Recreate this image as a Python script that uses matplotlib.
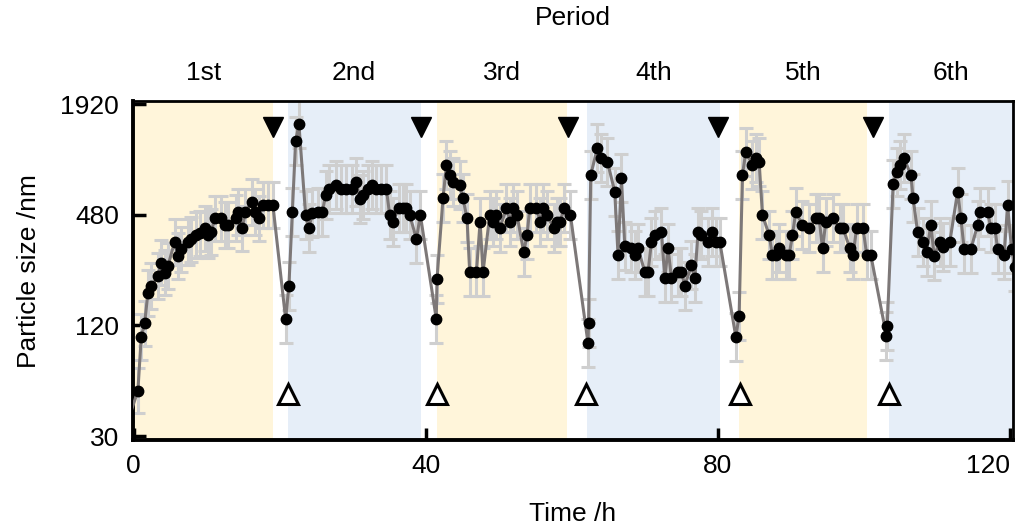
import numpy as np
import matplotlib
matplotlib.use("Agg")
import matplotlib.pyplot as plt

plt.rcParams['font.family'] = ['Liberation Sans', 'DejaVu Sans']

# particle size time course, one list per period
t1 = [-0.8, 0.59, 1.05, 1.51, 1.96, 2.42, 3.33, 3.79, 4.25, 4.70, 5.62, 6.07, 6.53, 7.44, 7.90,
      8.59, 9.04, 9.73, 10.18, 10.64, 11.10, 12.01, 12.47, 12.92, 13.97, 14.29, 14.89, 15.30,
      16.21, 16.67, 17.12, 17.71, 18.40, 19.08]
s1 = [36, 53, 104, 123, 180, 196, 222, 263, 232, 252, 342, 286, 311, 342, 352,
      372, 380, 404, 372, 387, 458, 458, 421, 421, 462, 498, 404, 498,
      564, 498, 458, 541, 541, 541]

t2 = [20.82, 21.27, 21.74, 22.19, 22.64, 23.56, 24.01, 24.48, 25.25, 25.85, 26.30, 26.75, 27.67,
      28.45, 29.14, 29.96, 30.51, 30.96, 31.41, 32.07, 32.70, 33.25, 33.93, 34.62, 35.07, 35.52,
      36.30, 36.89, 37.36, 37.81, 38.73, 39.27]
s2 = [130, 197, 498, 1208, 1488, 478, 404, 490, 498, 498, 614, 662, 696,
      662, 662, 662, 725, 584, 614, 662, 696, 662, 662, 662, 478, 439,
      519, 519, 519, 478, 354, 478]

t3 = [41.45, 41.55, 42.37, 42.84, 43.29, 43.74, 44.66, 45.11, 45.66, 46.03, 46.95, 47.45, 47.85,
      48.77, 49.22, 49.68, 50.14, 51.05, 51.60, 51.96, 52.51, 53.42, 53.88, 54.25, 55.16, 55.71,
      56.07, 56.62, 57.53, 57.99, 58.45, 58.90, 59.82]
s3 = [130, 214, 589, 894, 789, 725, 696, 589, 458, 233, 233, 439, 233,
      478, 439, 478, 404, 519, 439, 519, 478, 300, 372, 519, 519, 439,
      519, 478, 404, 439, 439, 519, 478]

t4 = [62.23, 62.30, 62.60, 63.52, 64.07, 64.89, 65.89, 66.34, 66.81, 67.26, 68.18, 68.63, 69.08,
      70.00, 70.45, 70.92, 71.37, 72.29, 72.74, 73.19, 73.66, 74.56, 75.03, 75.48, 76.40, 76.85,
      77.30, 77.77, 78.67, 79.14, 79.82, 80.27]
s4 = [96, 123, 789, 1110, 980, 932, 640, 289, 756, 325, 315, 289, 315,
      235, 235, 342, 372, 387, 216, 315, 216, 235, 235, 197, 255, 216,
      387, 372, 342, 387, 342, 342]

t5 = [82.47, 82.92, 83.38, 83.84, 84.75, 85.21, 85.66, 86.12, 87.03, 87.49, 87.95, 88.40, 89.32,
      89.77, 90.23, 90.68, 91.60, 92.51, 93.42, 93.88, 94.34, 94.80, 95.71, 96.71, 97.17, 98.08,
      98.53, 99.00, 99.90, 100.40, 100.96]
s5 = [104, 135, 789, 1056, 894, 980, 932, 478, 372, 289, 289, 315, 289,
      289, 372, 498, 421, 404, 458, 458, 315, 439, 458, 404, 404, 315,
      289, 404, 404, 289, 289]

t6 = [103.10, 103.20, 104.01, 104.48, 104.93, 105.52, 106.44, 106.75, 107.36, 108.12, 108.59,
      109.18, 109.63, 110.41, 110.86, 111.78, 112.84, 113.29, 113.74, 114.66, 115.58, 115.89,
      116.95, 117.40, 117.95, 118.32, 119.22, 119.68, 120.23, 120.70]
s6 = [105, 119, 702, 816, 894, 972, 789, 589, 387, 342, 302,
      421, 286, 342, 320, 342, 640, 458, 312, 312, 421, 498,
      498, 404, 404, 312, 289, 541, 312, 250]

# relative spread (fold change) of the error bars in each period
spread = [1.33, 1.35, 1.35, 1.35, 1.35, 1.35]

period_labels = ['1st', '2nd', '3rd', '4th', '5th', '6th']
period_start = [-0.2, 21.1, 41.5, 62.15, 82.9, 103.4]
period_end = [19.1, 39.3, 59.4, 80.3, 100.4, 121.0]
period_color = ['#fff5da', '#e6eef8'] * 3

stop_times = [19.04, 39.3, 59.45, 80.0, 101.3]    # filled down triangles
start_times = [21.1, 41.5, 61.9, 83.0, 103.4]     # open up triangles

times = [t1, t2, t3, t4, t5, t6]
sizes = [s1, s2, s3, s4, s5, s6]

fig = plt.figure(figsize=(10.22, 5.29), dpi=100)
ax = fig.add_axes([0.130, 0.168, 0.861, 0.641])

for x0, x1, c, lab in zip(period_start, period_end, period_color, period_labels):
    ax.axvspan(x0, x1, color=c, lw=0, zorder=0)
    ax.text((max(x0, 0) + min(x1, 120.4)) / 2, 1.083, lab, transform=ax.get_xaxis_transform(),
            ha='center', va='center', fontsize=19)

t_all = np.concatenate([np.array(t) for t in times])
s_all = np.concatenate([np.array(s, dtype=float) for s in sizes])
f_all = np.concatenate([np.full(len(t), f) for t, f in zip(times, spread)])
yerr = np.vstack([s_all - s_all / f_all, s_all * f_all - s_all])

ax.errorbar(t_all, s_all, yerr=yerr, fmt='none', ecolor='#cfcfcf', elinewidth=2.2,
            capsize=5, capthick=2.2, zorder=2)
ax.plot(t_all, s_all, '-', color='#7d7878', lw=2.2, marker='o', ms=7.5,
        mfc='black', mec='black', zorder=3)

tr = ax.get_xaxis_transform()
ax.plot(stop_times, [0.923] * len(stop_times), 'v', color='black', ms=15, transform=tr,
        zorder=4, clip_on=False)
ax.plot(start_times, [0.136] * len(start_times), '^', mfc='white', mec='black', mew=2.2,
        ms=14, transform=tr, zorder=4, clip_on=False)

ax.set_yscale('log')
ax.set_ylim(28.5, 1993)
ax.set_xlim(-0.1, 120.4)
ax.set_yticks([30, 120, 480, 1920])
ax.set_yticklabels(['30', '120', '480', '1920'])
ax.minorticks_off()
ax.set_xticks([0, 40, 80, 120])
ax.set_xticklabels(['0', '40', '80', '120'])
ax.get_xticklabels()[-1].set_horizontalalignment('right')

ax.tick_params(direction='in', length=9, width=2.5, labelsize=19, pad=10)
for side in ['left', 'bottom']:
    ax.spines[side].set_linewidth(2.8)
for side in ['top', 'right']:
    ax.spines[side].set_linewidth(2)

ax.set_xlabel('Time /h', fontsize=19, labelpad=17)
ax.set_ylabel('Particle size /nm', fontsize=19, labelpad=14)
ax.text(0.5, 1.245, 'Period', transform=ax.transAxes, ha='center', va='center', fontsize=19)

fig.savefig('out.png', dpi=100)
